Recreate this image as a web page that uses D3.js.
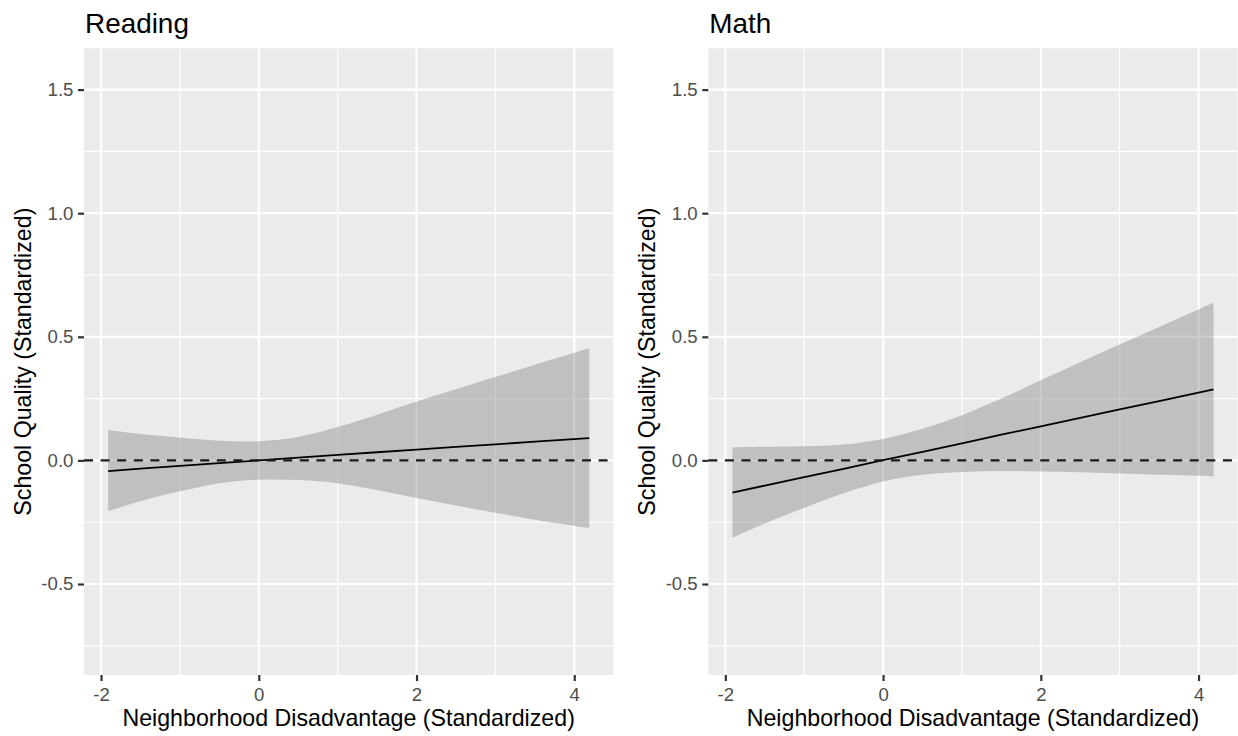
<!DOCTYPE html>
<html>
<head>
<meta charset="utf-8">
<script src="https://cdn.jsdelivr.net/npm/d3@7/dist/d3.min.js"></script>
<style>
  html, body { margin: 0; padding: 0; background: #ffffff; }
  svg { display: block; }
  text { font-family: "Liberation Sans", Arial, Helvetica, sans-serif; }
</style>
</head>
<body>
<svg id="chart" width="1238" height="736"></svg>
<script>
// ---- data ----
const panelTitles = ["Reading", "Math"];
const xValues = [-1.91, -1.5, -1, -0.5, 0, 0.5, 1, 1.5, 2, 2.5, 3, 3.5, 4.19];

const readingFit   = [-0.043, -0.033, -0.022, -0.011, 0.000, 0.011, 0.022, 0.033, 0.044, 0.055, 0.065, 0.076, 0.090];
const readingLower = [-0.205, -0.165, -0.125, -0.092, -0.078, -0.079, -0.092, -0.120, -0.152, -0.182, -0.212, -0.240, -0.274];
const readingUpper = [0.123, 0.107, 0.093, 0.080, 0.078, 0.095, 0.135, 0.185, 0.238, 0.288, 0.337, 0.387, 0.454];

const mathFit   = [-0.130, -0.102, -0.068, -0.034, 0.001, 0.035, 0.069, 0.104, 0.138, 0.172, 0.206, 0.240, 0.287];
const mathLower = [-0.313, -0.255, -0.192, -0.133, -0.085, -0.058, -0.047, -0.043, -0.045, -0.048, -0.053, -0.058, -0.064];
const mathUpper = [0.053, 0.055, 0.057, 0.064, 0.087, 0.128, 0.183, 0.250, 0.324, 0.397, 0.469, 0.540, 0.638];

const xTicks = [-2, 0, 2, 4];
const xTickLabels = ["-2", "0", "2", "4"];
const xMinor = [-1, 1, 3];
const yTicks = [-0.5, 0, 0.5, 1.0, 1.5];
const yTickLabels = ["-0.5", "0.0", "0.5", "1.0", "1.5"];
const yMinor = [-0.75, -0.25, 0.25, 0.75, 1.25];
const referenceY = 0;
const xDomain = [-2.216, 4.495];
const yDomain = [-0.868, 1.667];
const xTitle = "Neighborhood Disadvantage (Standardized)";
const yTitle = "School Quality (Standardized)";

const panels = [
  { title: panelTitles[0], fit: readingFit, lower: readingLower, upper: readingUpper, left: 84 },
  { title: panelTitles[1], fit: mathFit, lower: mathLower, upper: mathUpper, left: 708.3 }
];

// ---- layout ----
const panelW = 529.3, panelTop = 48.3, panelBottom = 675;
const svg = d3.select("#chart");

panels.forEach(p => {
  const x = d3.scaleLinear().domain(xDomain).range([p.left, p.left + panelW]);
  const y = d3.scaleLinear().domain(yDomain).range([panelBottom, panelTop]);
  const g = svg.append("g");

  // background
  g.append("rect").attr("x", p.left).attr("y", panelTop)
    .attr("width", panelW).attr("height", panelBottom - panelTop).attr("fill", "#EBEBEB");

  // minor grid
  g.selectAll(".ymin").data(yMinor).join("line")
    .attr("x1", p.left).attr("x2", p.left + panelW)
    .attr("y1", d => y(d)).attr("y2", d => y(d))
    .attr("stroke", "#ffffff").attr("stroke-width", 1.1);
  g.selectAll(".xmin").data(xMinor).join("line")
    .attr("y1", panelTop).attr("y2", panelBottom)
    .attr("x1", d => x(d)).attr("x2", d => x(d))
    .attr("stroke", "#ffffff").attr("stroke-width", 1.1);
  // major grid
  g.selectAll(".ymaj").data(yTicks).join("line")
    .attr("x1", p.left).attr("x2", p.left + panelW)
    .attr("y1", d => y(d)).attr("y2", d => y(d))
    .attr("stroke", "#ffffff").attr("stroke-width", 2.2);
  g.selectAll(".xmaj").data(xTicks).join("line")
    .attr("y1", panelTop).attr("y2", panelBottom)
    .attr("x1", d => x(d)).attr("x2", d => x(d))
    .attr("stroke", "#ffffff").attr("stroke-width", 2.2);

  const rows = xValues.map((v, i) => ({ x: v, fit: p.fit[i], lo: p.lower[i], hi: p.upper[i] }));

  // ribbon
  g.append("path").datum(rows)
    .attr("d", d3.area().x(d => x(d.x)).y0(d => y(d.lo)).y1(d => y(d.hi)).curve(d3.curveCatmullRom.alpha(0.5)))
    .attr("fill", "#808080").attr("fill-opacity", 0.4);

  // fitted line
  g.append("path").datum(rows)
    .attr("d", d3.line().x(d => x(d.x)).y(d => y(d.fit)))
    .attr("fill", "none").attr("stroke", "#000000").attr("stroke-width", 1.8);

  // dashed reference line
  g.append("line")
    .attr("x1", p.left).attr("x2", p.left + panelW)
    .attr("y1", y(referenceY)).attr("y2", y(referenceY))
    .attr("stroke", "#1a1a1a").attr("stroke-width", 2.2)
    .attr("stroke-dasharray", "9,7.6");

  // axes
  const ax = g.append("g").attr("transform", `translate(0,${panelBottom})`)
    .call(d3.axisBottom(x).tickValues(xTicks).tickFormat((d, i) => xTickLabels[i]).tickSize(6).tickPadding(4));
  const ay = g.append("g").attr("transform", `translate(${p.left},0)`)
    .call(d3.axisLeft(y).tickValues(yTicks).tickFormat((d, i) => yTickLabels[i]).tickSize(6).tickPadding(4.6));
  [ax, ay].forEach(a => {
    a.select(".domain").remove();
    a.selectAll(".tick line").attr("stroke", "#333333").attr("stroke-width", 2.2);
    a.selectAll(".tick text").attr("fill", "#4D4D4D").style("font-size", "18.6px")
      .style("font-family", '"Liberation Sans", Arial, sans-serif');
  });
  ax.selectAll(".tick text").attr("dy", null).attr("y", 26);

  // titles
  g.append("text").attr("x", p.left + 1).attr("y", 33)
    .attr("fill", "#000").style("font-size", "27.9px").text(p.title);
  g.append("text").attr("x", p.left + panelW / 2).attr("y", 726)
    .attr("text-anchor", "middle").attr("fill", "#000").style("font-size", "23.2px").text(xTitle);
  g.append("text")
    .attr("transform", `translate(${p.left - 53.3},${(panelTop + panelBottom) / 2}) rotate(-90)`)
    .attr("text-anchor", "middle").attr("fill", "#000").style("font-size", "23.2px").text(yTitle);
});
</script>
</body>
</html>
